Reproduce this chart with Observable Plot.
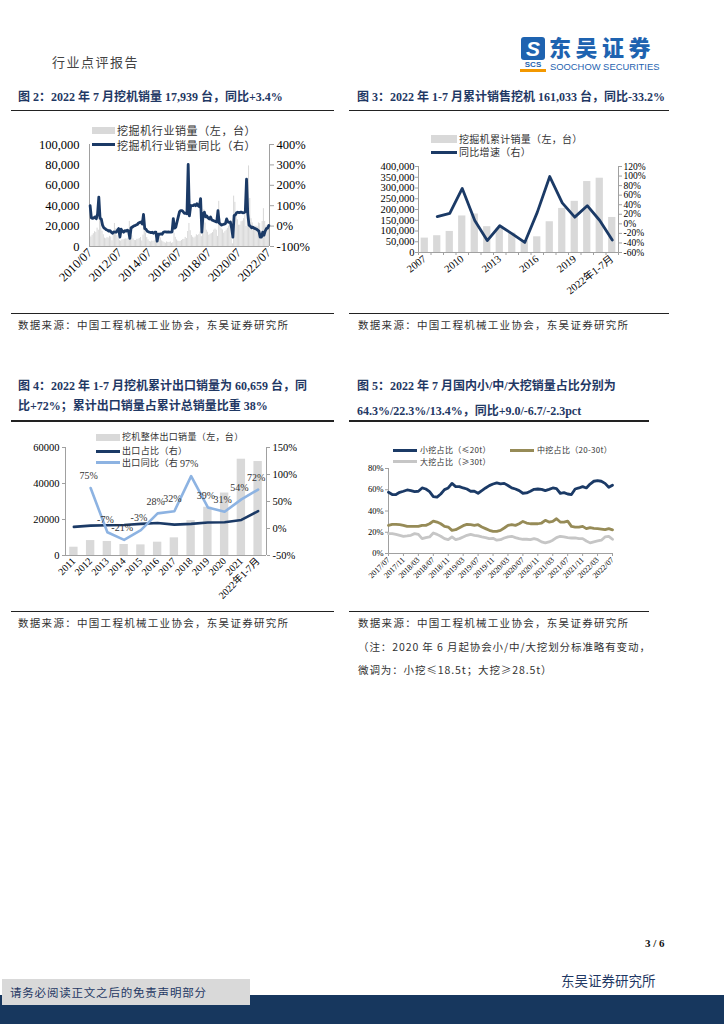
<!DOCTYPE html>
<html><head><meta charset="utf-8">
<script src="https://cdn.jsdelivr.net/npm/d3@7"></script>
<script src="https://cdn.jsdelivr.net/npm/@observablehq/plot@0.6"></script>
<style>
body{margin:0;background:#fff;}
#page{position:relative;width:724px;height:1024px;overflow:hidden;background:#fff;font-family:"Liberation Serif","Noto Sans CJK SC",serif;}
.a{position:absolute;white-space:nowrap;}
.title{font-weight:bold;color:#1f3864;font-size:12px;line-height:16px;}
.src{font-family:"Noto Sans CJK SC";font-size:10.5px;color:#333;letter-spacing:1.3px;line-height:16px;}
.lg{position:absolute;white-space:nowrap;font-family:"Noto Sans CJK SC";color:#333;line-height:14px;}
</style></head>
<body><div id="page"></div>
<script>
// ---------- DATA ----------
// Fig 2: monthly excavator sales (left, units) and YoY (right, %) 2010/07 - 2022/07
const start2 = [2010, 7];
const sales2 = [
 10500, 9300, 11000, 12500, 14500, 13800,
 18000, 16000, 38000, 26000, 15000, 11500, 8200, 7600, 8700, 8300, 10000, 9300,
 5600, 13500, 22600, 17300, 10600, 7700, 5700, 5300, 6500, 6700, 7100, 7500,
 7200, 8300, 24600, 18000, 10500, 7400, 5900, 5800, 7000, 7100, 7800, 8800,
 5400, 11200, 20600, 13200, 8800, 6500, 4900, 4400, 5300, 5100, 5500, 6600,
 4500, 3300, 11200, 8400, 5500, 4600, 3800, 3200, 4500, 4000, 4000, 4500,
 3100, 3700, 12900, 9000, 6500, 5200, 4800, 5000, 5900, 6800, 7000, 8900,
 7800, 14700, 22600, 15500, 10700, 9100, 8200, 9300, 11500, 10700, 11700, 14200,
 9700, 14200, 36000, 23000, 16000, 14000, 11000, 12000, 12700, 13600, 16000, 17100,
 15900, 9900, 44300, 27000, 17300, 16200, 13100, 14600, 16000, 17800, 20000, 22600,
 9100, 2600, 49400, 43300, 32400, 26200, 20900, 20900, 24300, 24900, 27300, 31300,
 19600, 28300, 79000, 47100, 27200, 23100, 17400, 19900, 20000, 19300, 23100, 22500,
 14000, 24500, 37100, 24500, 20000, 20800, 17900];
const yoy2 = [
 100, 40, 38, 40, 45, 36,
 60, 142, 38, 35, 5, -8, -12, -18, -20, -25, -22, -30,
 -35, -28, -30, -30, -20, -12, -54, -15, -25, -30, -22, -25,
 -20, -25, -60, -8, -5, 0, 2, 5, 8, 15, 18, 20,
 10, 57, -12, -15, -25, -28, -30, -32, -30, -35, -30, -30,
 -74, -40, -40, -38, -40, -30, -28, -28, -30, -28, -30, -30,
 -28, 37, -10, -5, 20, 45, 70, 76, 76, 70, 63, 63,
 60, 302, 50, 100, 100, 100, 105, 100, 110, 100, 95, 135,
 -30, 60, 68, 45, 50, 40, 35, 45, 30, 28, 25, 22,
 20, 76, 15, 10, 5, 8, 10, 12, 35, 20, 18, 20,
 -10, -54, 52, 55, 65, 68, 66, 68, 68, 65, 66, 70,
 230, 60, 5, 0, -8, -5, -10, -12, -15, -20, -25, -54,
 -54, -30, -45, -25, -12, -10, 3.4];
const ticksL2 = [0, 20000, 40000, 60000, 80000, 100000];
const ticksR2 = [-100, 0, 100, 200, 300, 400];

// Fig 3: annual cumulative sales and YoY
const years3 = ["2007","2008","2009","2010","2011","2012","2013","2014","2015","2016","2017","2018","2019","2020","2021","2022年1-7月"];
const sales3 = [67000, 78000, 98000, 170000, 179000, 120000, 112000, 90000, 54500, 73000, 143000, 205000, 238000, 330000, 345500, 163000];
const yoy3 = [null, 15, 22, 74, 7, -35, -4, -21, -39, 24, 99, 44, 14, 38, 7, -34];
const ticksL3 = [0, 50000, 100000, 150000, 200000, 250000, 300000, 350000, 400000];
const ticksR3 = [-60, -40, -20, 0, 20, 40, 60, 80, 100, 120];
const labelIdx3 = [0, 3, 6, 9, 12, 15];

// Fig 4: exports
const years4 = ["2011","2012","2013","2014","2015","2016","2017","2018","2019","2020","2021","2022年1-7月"];
const export4 = [4600, 8300, 7800, 6100, 5900, 7400, 9800, 19400, 26800, 34700, 53500, 52200];
const share4 = [3, 5.4, 6, 6.6, 8.5, 10.3, 7.2, 8.5, 11, 11.5, 15.8, 32];
const yoy4 = [null, 75, -7, -21, -3, 28, 32, 97, 39, 31, 54, 72];
const ticksL4 = [0, 20000, 40000, 60000];
const ticksR4 = [-50, 0, 50, 100, 150];

// Fig 5: small / medium / large shares 2017/07 - 2022/07
const start5 = [2017, 7];
const small5 = [57.6, 55.5, 55.5, 57.6, 58.6, 59.8,
 59.2, 58.3, 58.6, 61.7, 60.7, 58.3, 53.6, 53, 56, 60.1, 61.7, 66,
 63, 63, 61.7, 60.7, 58.6, 58.6, 56.7, 59.2, 61.7, 63.9, 65.4, 66.5,
 65.5, 66, 64, 61.7, 60.7, 59.2, 56.7, 57, 58.6, 60.4, 60.7, 60.4,
 59.2, 60.4, 61.7, 61, 56.7, 57.3, 56, 55.5, 60.7, 61.7, 63, 61.7,
 65.4, 68, 68.5, 68, 66, 62.3, 64.3];
const med5 = [26.5, 27.4, 27.4, 27.1, 26.5, 25.5,
 25.5, 25.5, 25.5, 26.5, 26.5, 28, 30.5, 29.6, 28, 25.5, 24.9, 21.8,
 22.4, 24.3, 26.2, 27.4, 27.1, 26.5, 27.1, 24.9, 23.4, 21.8, 20.9, 20.9,
 21.8, 24, 26.5, 27.1, 26.5, 28, 30.2, 28.7, 28, 28, 28, 28.7,
 31.2, 29.6, 30.2, 32.7, 29.6, 29.6, 30.5, 25.5, 24.9, 24.9, 25.5, 23.4,
 24.3, 23.7, 23.4, 23, 22.4, 23.4, 22.3];
const large5 = [18.7, 18.7, 18, 17.1, 16.2, 16.5,
 17.1, 18.7, 18, 14, 15, 15.6, 19.3, 18, 16.2, 14, 13, 15.6,
 13, 14, 15.6, 17.1, 18, 17.1, 16.5, 15.6, 15, 14, 14.3, 12.5,
 13, 14.6, 15.6, 16.2, 15, 14, 13.4, 13.4, 13, 14, 13, 10.9,
 10, 10.9, 12.5, 15, 16.2, 15.6, 15, 14.6, 14.6, 14, 14, 11.8,
 10, 10.9, 11.8, 12.5, 15.6, 16.2, 13.4];
const ticks5 = [0, 20, 40, 60, 80];

// ---------- helpers ----------
function monthLabels(start, n){
  const out=[]; let [y,m]=start;
  for(let i=0;i<n;i++){ out.push(y+"/"+String(m).padStart(2,"0")); m++; if(m>12){m=1;y++;} }
  return out;
}
const months2 = monthLabels(start2, sales2.length);
const months5 = monthLabels(start5, small5.length);

const page = document.getElementById("page");
function div(cls, x, y, html, style){
  const d=document.createElement("div"); d.className=cls; d.style.left=x+"px"; d.style.top=y+"px";
  d.innerHTML=html; if(style) Object.assign(d.style, style); page.appendChild(d); return d;
}
function box(x,y,w,h,bg,extra){ const d=document.createElement("div"); d.style.position="absolute";
  Object.assign(d.style,{left:x+"px",top:y+"px",width:w+"px",height:h+"px",background:bg},extra||{}); page.appendChild(d); return d; }
function place(svg, x, y){ svg.style.position="absolute"; svg.style.left=x+"px"; svg.style.top=y+"px"; svg.style.overflow="visible"; page.appendChild(svg); }
function dual(L, R){ const f=v=>(v-R[0])/(R[1]-R[0])*(L[1]-L[0])+L[0]; f.inv=v=>(v-L[0])/(L[1]-L[0])*(R[1]-R[0])+R[0]; return f; }

const NAVY="#1b3a66", GRAY="#d9d9d9", AX="#a0a0a0";
const FONT="'Liberation Serif','Noto Sans CJK SC',serif";

// ---------- header ----------
div("a", 52, 53, "行业点评报告", {fontFamily:"Noto Sans CJK SC", fontSize:"13px", color:"#444", letterSpacing:"1.5px", lineHeight:"18px"});
box(521, 37, 24, 23, "#1e63b0", {borderRadius:"3px"});
div("a", 521, 36, "S", {width:"24px", textAlign:"center", color:"#fff", fontFamily:"Liberation Sans", fontWeight:"bold", fontStyle:"italic", fontSize:"21px", lineHeight:"25px"});
div("a", 520, 61, "SCS", {width:"26px", textAlign:"center", color:"#1e63b0", fontFamily:"Liberation Sans", fontWeight:"bold", fontSize:"8px", lineHeight:"8px"});
box(520, 69, 26, 2.5, "#f39800");
div("a", 549, 35, "东吴证券", {fontFamily:"Noto Sans CJK SC", fontWeight:"900", fontSize:"22px", color:"#1e63b0", letterSpacing:"4.5px", lineHeight:"23px"});
div("a", 550, 62, "SOOCHOW SECURITIES", {fontFamily:"Liberation Sans", fontSize:"9.4px", color:"#1e63b0", lineHeight:"9px"});

// ---------- titles & rules ----------
div("a title", 18, 89, "图 2：2022 年 7 月挖机销量 17,939 台，同比+3.4%");
div("a title", 357, 89, "图 3：2022 年 1-7 月累计销售挖机 161,033 台，同比-33.2%");
box(11, 109.5, 323, 1.6, "#222"); box(349, 109.5, 320, 1.6, "#222");
box(11, 312.5, 323, 1.6, "#222"); box(349, 312.5, 320, 1.6, "#222");
div("a src", 18, 317, "数据来源：中国工程机械工业协会，东吴证券研究所");
div("a src", 358, 317, "数据来源：中国工程机械工业协会，东吴证券研究所");

div("a title", 18, 378, "图 4：2022 年 1-7 月挖机累计出口销量为 60,659 台，同");
div("a title", 18, 398, "比+72%；累计出口销量占累计总销量比重 38%");
div("a title", 357, 378, "图 5：2022 年 7 月国内小/中/大挖销量占比分别为");
div("a title", 357, 403, "64.3%/22.3%/13.4%，同比+9.0/-6.7/-2.3pct");
box(11, 420, 323, 1.6, "#222"); box(349, 420, 300, 1.6, "#222");
box(11, 610.5, 323, 1.6, "#222"); box(349, 610.5, 300, 1.6, "#222");
div("a src", 18, 615, "数据来源：中国工程机械工业协会，东吴证券研究所");
div("a src", 358, 615, "数据来源：中国工程机械工业协会，东吴证券研究所");
div("a src", 358, 639, "（注：2020 年 6 月起协会小/中/大挖划分标准略有变动，", {letterSpacing:"0.9px"});
div("a src", 358, 662, "微调为：小挖≤18.5t；大挖≥28.5t）", {letterSpacing:"0.9px"});

// ---------- legends (HTML, behind svgs) ----------
// Fig 2
box(92, 127, 23, 7, GRAY);
div("lg", 117, 123, "挖掘机行业销量（左，台）", {fontSize:"11px", letterSpacing:"0.6px"});
box(92, 143, 23, 3, NAVY);
div("lg", 117, 138, "挖掘机行业销量同比（右）", {fontSize:"11px", letterSpacing:"0.6px"});
// Fig 3
box(431, 135, 26, 8, GRAY);
div("lg", 459, 132, "挖掘机累计销量（左，台）", {fontSize:"10px", letterSpacing:"0.3px"});
box(431, 150.5, 26, 3, NAVY);
div("lg", 459, 145, "同比增速（右）", {fontSize:"10px", letterSpacing:"0.3px"});
// Fig 4
box(96, 433.5, 24, 7, GRAY);
div("lg", 122, 430, "挖机整体出口销量（左，台）", {fontSize:"9px", letterSpacing:"0.35px"});
box(96, 449.5, 24, 3, NAVY);
div("lg", 122, 444, "出口占比（右）", {fontSize:"9px", letterSpacing:"0.35px"});
box(96, 461, 24, 3, "#8db3e2");
div("lg", 122, 455.5, "出口同比（右", {fontSize:"9px", letterSpacing:"0.35px"});
// Fig 5
box(393, 448.5, 24, 3, NAVY);
div("lg", 420, 443, "小挖占比（≤20t）", {fontSize:"8px", letterSpacing:"0.3px"});
box(510, 448.5, 24, 3, "#968b57");
div("lg", 537, 443, "中挖占比（20-30t）", {fontSize:"8px", letterSpacing:"0.3px"});
box(393, 460, 24, 3, "#c6c6c6");
div("lg", 420, 455, "大挖占比（≥30t）", {fontSize:"8px", letterSpacing:"0.3px"});

// ---------- Fig 2 ----------
{
  const L=[0,100000], R=[-100,400], f=dual(L,R);
  const data = months2.map((m,i)=>({i, m, sales:sales2[i], yoy:yoy2[i]}));
  const n = data.length;
  const svg = Plot.plot({
    width:330, height:190, marginLeft:79, marginRight:71, marginTop:29, marginBottom:59,
    style:{fontFamily:FONT, fontSize:"12px", color:"#000", background:"transparent"},
    x:{type:"linear", domain:[-0.5, n-0.5], axis:null},
    y:{domain:L, axis:null},
    marks:[
      Plot.rectY(data,{x1:d=>d.i-0.42, x2:d=>d.i+0.42, y:"sales", fill:GRAY}),
      Plot.ruleY([0],{stroke:AX}),
      Plot.ruleX([-0.5, n-0.5],{stroke:AX}),
      Plot.line(data,{x:"i", y:d=>f(d.yoy), stroke:NAVY, strokeWidth:2.8}),
      Plot.axisY(ticksL2,{anchor:"left", tickSize:0, tickPadding:10, tickFormat:d3.format(","), fontSize:12.5, label:null}),
      Plot.axisY(ticksR2.map(f),{anchor:"right", tickSize:4, tickPadding:3, stroke:AX, tickFormat:v=>Math.round(f.inv(v))+"%", fontSize:12.5, label:null}),
      Plot.axisX(d3.range(0, n, 24),{tickSize:0, tickPadding:4, tickRotate:-45, tickFormat:i=>months2[i], fontSize:12.5, label:null})
    ]
  });
  place(svg, 10, 115);
}

// ---------- Fig 3 ----------
{
  const L=[0,400000], R=[-60,120], f=dual(L,R);
  const data = years3.map((c,i)=>({i, c, sales:sales3[i], yoy:yoy3[i]}));
  const n = data.length;
  const svg = Plot.plot({
    width:330, height:190, marginLeft:66, marginRight:64, marginTop:51, marginBottom:53,
    style:{fontFamily:FONT, fontSize:"10.5px", color:"#000", background:"transparent"},
    x:{type:"linear", domain:[-0.5, n-0.5], axis:null},
    y:{domain:L, axis:null},
    marks:[
      Plot.rectY(data,{x1:d=>d.i-0.29, x2:d=>d.i+0.29, y:"sales", fill:GRAY}),
      Plot.ruleY([0],{stroke:AX}),
      Plot.ruleX([-0.5, n-0.5],{stroke:AX}),
      Plot.line(data.filter(d=>d.yoy!=null),{x:"i", y:d=>f(d.yoy), stroke:NAVY, strokeWidth:2.8}),
      Plot.axisY(ticksL3,{anchor:"left", tickSize:3, tickPadding:1, stroke:AX, tickFormat:d3.format(","), fontSize:10.5, label:null}),
      Plot.axisY(ticksR3.map(f),{anchor:"right", tickSize:3, tickPadding:2, stroke:AX, tickFormat:v=>Math.round(f.inv(v))+"%", fontSize:9.5, label:null}),
      Plot.axisX(d3.range(-0.5, n, 1),{tickSize:3, stroke:AX, tickFormat:()=>"", label:null}),
      Plot.axisX(labelIdx3,{tickSize:0, tickPadding:5, tickRotate:-38, tickFormat:i=>years3[i], fontSize:10.5, label:null})
    ]
  });
  place(svg, 352, 115);
}

// ---------- Fig 4 ----------
{
  const L=[0,60000], R=[-50,150], f=dual(L,R);
  const data = years4.map((c,i)=>({i, c, exp:export4[i], share:share4[i], yoy:yoy4[i]}));
  const n = data.length;
  const yd = data.filter(d=>d.yoy!=null);
  const svg = Plot.plot({
    width:330, height:180, marginLeft:55, marginRight:74, marginTop:22, marginBottom:50,
    style:{fontFamily:FONT, fontSize:"10.5px", color:"#000", background:"transparent"},
    x:{type:"linear", domain:[-0.5, n-0.5], axis:null},
    y:{domain:L, axis:null},
    marks:[
      Plot.rectY(data,{x1:d=>d.i-0.25, x2:d=>d.i+0.25, y:"exp", fill:GRAY}),
      Plot.ruleY([0],{stroke:AX}),
      Plot.ruleX([-0.5, n-0.5],{stroke:AX}),
      Plot.line(data,{x:"i", y:d=>f(d.share), stroke:NAVY, strokeWidth:2.6}),
      Plot.line(yd,{x:"i", y:d=>f(d.yoy), stroke:"#8db3e2", strokeWidth:2.6}),
      Plot.text(yd,{x:"i", y:d=>f(d.yoy), text:d=>d.yoy+"%", dy:-12, dx:-2, fontSize:10, fill:"#333"}),
      Plot.axisY(ticksL4,{anchor:"left", tickSize:3, tickPadding:3, stroke:AX, tickFormat:d=>String(d), fontSize:10.5, label:null}),
      Plot.axisY(ticksR4.map(f),{anchor:"right", tickSize:3, tickPadding:3, stroke:AX, tickFormat:v=>Math.round(f.inv(v))+"%", fontSize:10.5, label:null}),
      Plot.axisX(d3.range(0, n),{tickSize:0, tickPadding:4, tickRotate:-45, tickFormat:i=>years4[i], fontSize:10, label:null})
    ]
  });
  place(svg, 10, 425);
}

// ---------- Fig 5 ----------
{
  const data = months5.map((m,i)=>({i, m, s:small5[i], md:med5[i], lg:large5[i]}));
  const n = data.length;
  const svg = Plot.plot({
    width:330, height:180, marginLeft:36, marginRight:70, marginTop:43, marginBottom:52,
    style:{fontFamily:FONT, fontSize:"8.5px", color:"#000", background:"transparent"},
    x:{type:"linear", domain:[0, n-1], axis:null},
    y:{domain:[0,80], axis:null},
    marks:[
      Plot.ruleY([0],{stroke:AX}),
      Plot.ruleX([0],{stroke:AX}),
      Plot.line(data,{x:"i", y:"lg", stroke:"#c6c6c6", strokeWidth:2.8}),
      Plot.line(data,{x:"i", y:"md", stroke:"#968b57", strokeWidth:2.8}),
      Plot.line(data,{x:"i", y:"s", stroke:NAVY, strokeWidth:2.8}),
      Plot.axisY(ticks5,{anchor:"left", tickSize:3, tickPadding:2, stroke:AX, tickFormat:d=>d+"%", fontSize:8.5, label:null}),
      Plot.axisX(d3.range(0, n, 4),{tickSize:3, tickPadding:2, stroke:AX, tickRotate:-45, tickFormat:i=>months5[i], fontSize:8, label:null})
    ]
  });
  place(svg, 352, 425);
}

// ---------- footer ----------
div("a", 645, 935, "3 / 6", {fontFamily:"Liberation Serif", fontWeight:"bold", fontSize:"11px", color:"#111", lineHeight:"16px"});
div("a", 561, 971, "东吴证券研究所", {fontFamily:"Noto Sans CJK SC", fontSize:"13.5px", color:"#1f3864", lineHeight:"18px"});
box(0, 995, 724, 29, "#17375e");
box(2, 979, 248, 26, "#d9d9d9");
div("a", 10, 983, "请务必阅读正文之后的免责声明部分", {fontFamily:"Noto Sans CJK SC", fontSize:"11.5px", color:"#1f3864", letterSpacing:"0.8px", lineHeight:"18px"});
</script>
</body></html>
